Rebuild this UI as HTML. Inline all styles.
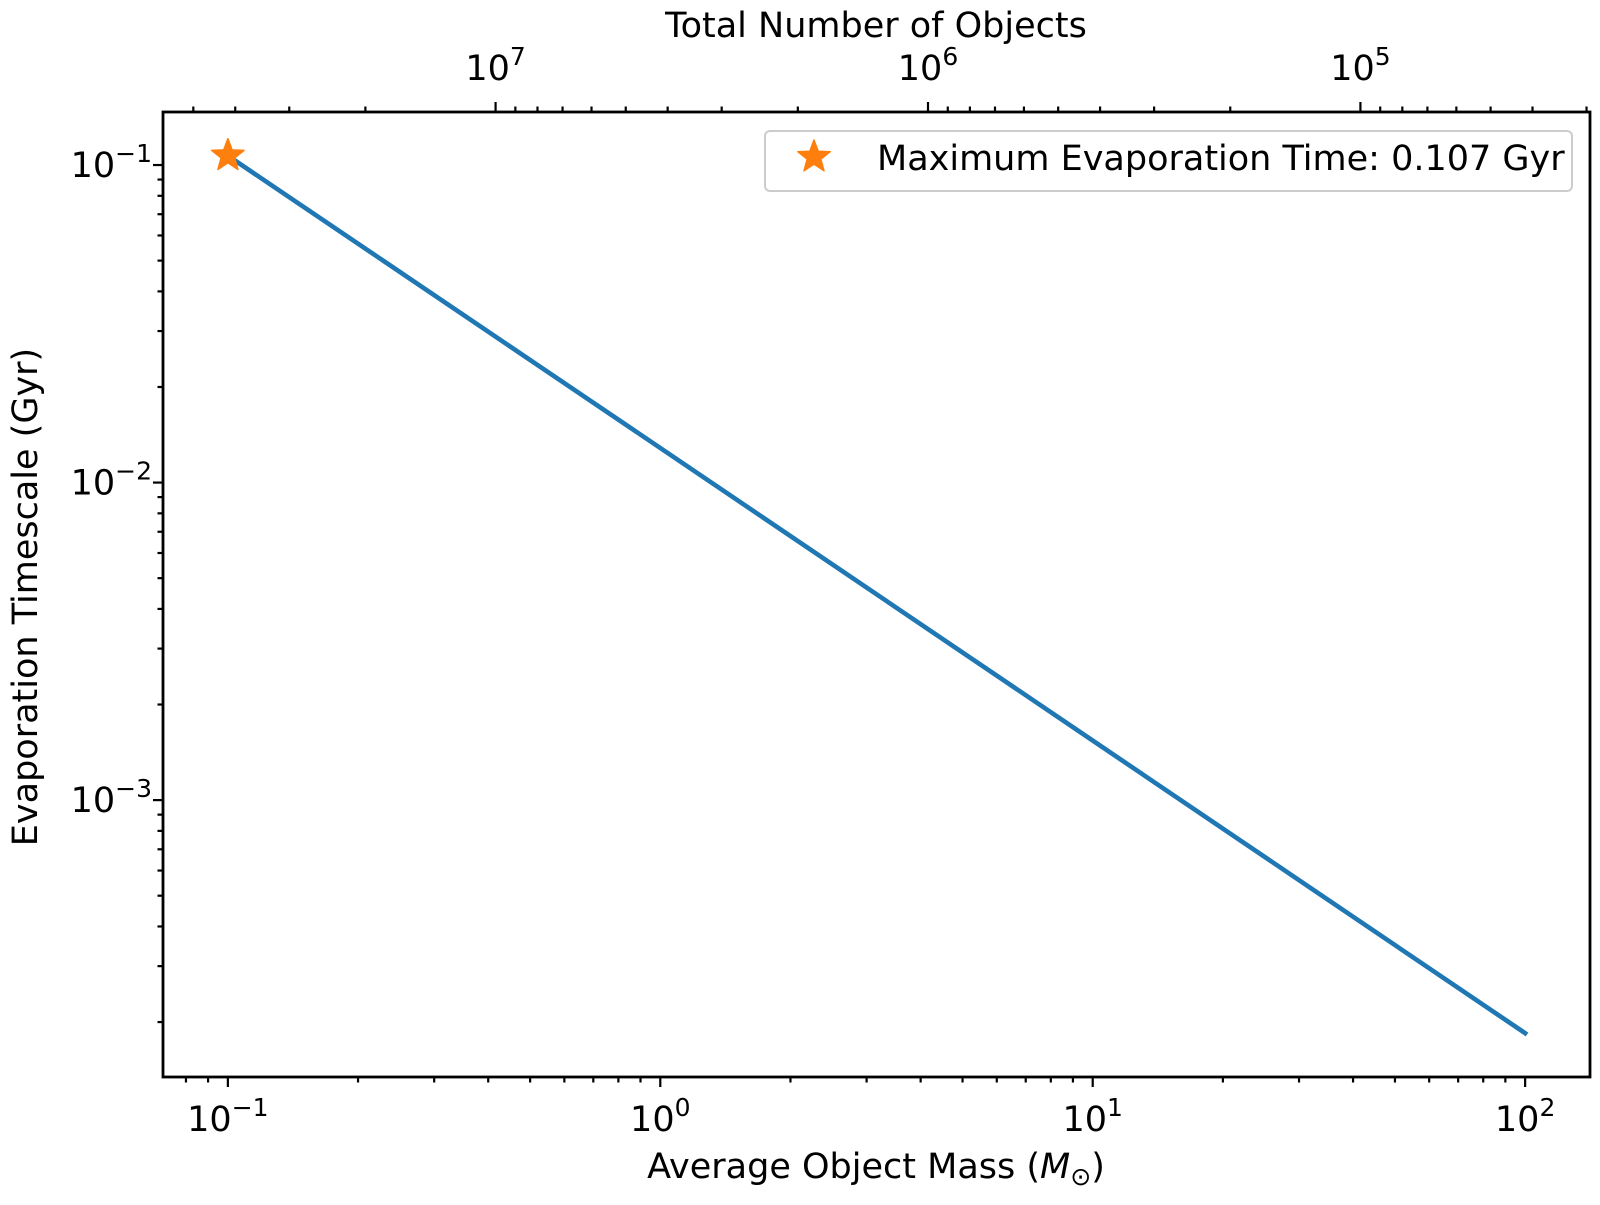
<!DOCTYPE html>
<html><head><meta charset="utf-8"><style>
html,body{margin:0;padding:0;background:#fff;}
svg text{font-family:"DejaVu Sans","Liberation Sans",sans-serif;fill:#000;}
</style></head><body>
<svg id="chart" width="1600" height="1200" xmlns="http://www.w3.org/2000/svg"></svg>
<script>
// data
const masses = [0.1, 1, 10, 100];
const timescales = [0.107, 0.01285, 0.00154, 0.0001845];
const maxPointMass = [0.1];
const maxPointTime = [0.107];
const xTickExps = [-1, 0, 1, 2];
const yTickExps = [-1, -2, -3];
const topTickExps = [7, 6, 5];
const totalMass = [4.16e6];
const legendLabel = ["Maximum Evaporation Time: 0.107 Gyr"];

const L=163,R=1590,T=112,B=1077;
const xmin=-1.150,xmax=2.150,ymin=-3.872,ymax=-0.833;
function xs(m){return L+(Math.log10(m)-xmin)/(xmax-xmin)*(R-L);}
function ys(v){return B-(Math.log10(v)-ymin)/(ymax-ymin)*(B-T);}
function xN(n){return xs(totalMass[0]/n);}

const svg=document.getElementById('chart');
const NS='http://www.w3.org/2000/svg';
function mk(tag,attrs,parent){const e=document.createElementNS(NS,tag);for(const k in attrs)e.setAttribute(k,attrs[k]);(parent||svg).appendChild(e);return e;}

// ticks
const ticks=mk('g',{stroke:'#000','stroke-width':2.2});


for(let e=-2;e<=2;e++){for(let k=1;k<10;k++){const v=k*Math.pow(10,e);const x=xs(v);if(x<L||x>R)continue;
 mk('line',{x1:x,x2:x,y1:B,y2:B+(k==1?10:5.5)},ticks);}}
for(let e=-4;e<=0;e++){for(let k=1;k<10;k++){const v=k*Math.pow(10,e);const y=ys(v);if(y<T||y>B)continue;
 mk('line',{x1:L,x2:L-(k==1?10:5.5),y1:y,y2:y},ticks);}}
for(let e=4;e<=8;e++){for(let k=1;k<10;k++){const n=k*Math.pow(10,e);const x=xN(n);if(x<L||x>R)continue;
 mk('line',{x1:x,x2:x,y1:T,y2:T-(k==1?10:5.5)},ticks);}}

function powLabel(x,y,base,exp,anchor,name){
 const t=mk('text',{x:x,y:y,'font-size':35,'text-anchor':anchor});
 
 
 t.textContent=base;
 const s=mk('tspan',{'font-size':25,dy:-15},t);s.textContent=String(exp).replace('-','\u2212');
 return t;
}
xTickExps.forEach(e=>{powLabel(xs(Math.pow(10,e)),1131,'10',e,'middle','x-tick-label');});
yTickExps.forEach(e=>{powLabel(152,ys(Math.pow(10,e))+12,'10',e,'end','y-tick-label');});
topTickExps.forEach(e=>{powLabel(xN(Math.pow(10,e)),80,'10',e,'middle','top-tick-label');});

// series line
const pts=masses.map((m,i)=>xs(m)+','+ys(timescales[i])).join(' ');
const line=mk('polyline',{points:pts,fill:'none',stroke:'#1f77b4','stroke-width':4.6,'stroke-linecap':'square'});



function star(cx,cy,r){let p=[];for(let i=0;i<10;i++){const a=-Math.PI/2+i*Math.PI/5;const rr=i%2?r*0.42:r;p.push((cx+rr*Math.cos(a)).toFixed(1)+','+(cy+rr*Math.sin(a)).toFixed(1));}return p.join(' ');}
const mp=mk('polygon',{points:star(xs(maxPointMass[0]),ys(maxPointTime[0]),17),fill:'#ff7f0e',stroke:'#ff7f0e','stroke-width':1.5,'stroke-linejoin':'round'});



// frame
const fr=mk('rect',{x:L,y:T,width:R-L,height:B-T,fill:'none',stroke:'#000','stroke-width':2.8});



// legend
const lg=mk('g',{});


mk('rect',{x:765,y:131,width:807,height:60,rx:5,fill:'#fff','fill-opacity':0.8,stroke:'#cccccc','stroke-width':2},lg);
const ls=mk('polygon',{points:star(814,157,17),fill:'#ff7f0e',stroke:'#ff7f0e','stroke-width':1.5,'stroke-linejoin':'round'},lg);


const lt=mk('text',{x:877,y:170,'font-size':35},lg);


lt.textContent=legendLabel[0];

// axis titles
const xt=mk('text',{x:876,y:1178,'font-size':35,'text-anchor':'middle'});


xt.textContent='Average Object Mass (';
const mi=mk('tspan',{'font-style':'italic'},xt);mi.textContent='M';
const sub=mk('tspan',{'font-size':25,dy:7},xt);sub.textContent='\u2299';
const cp=mk('tspan',{dy:-7},xt);cp.textContent=')';

const yt=mk('text',{x:0,y:0,'font-size':35,'text-anchor':'middle',transform:'translate(37,597) rotate(-90)'});


yt.textContent='Evaporation Timescale (Gyr)';

const tt=mk('text',{x:876,y:37,'font-size':35,'text-anchor':'middle'});


tt.textContent='Total Number of Objects';
</script>
</body></html>
